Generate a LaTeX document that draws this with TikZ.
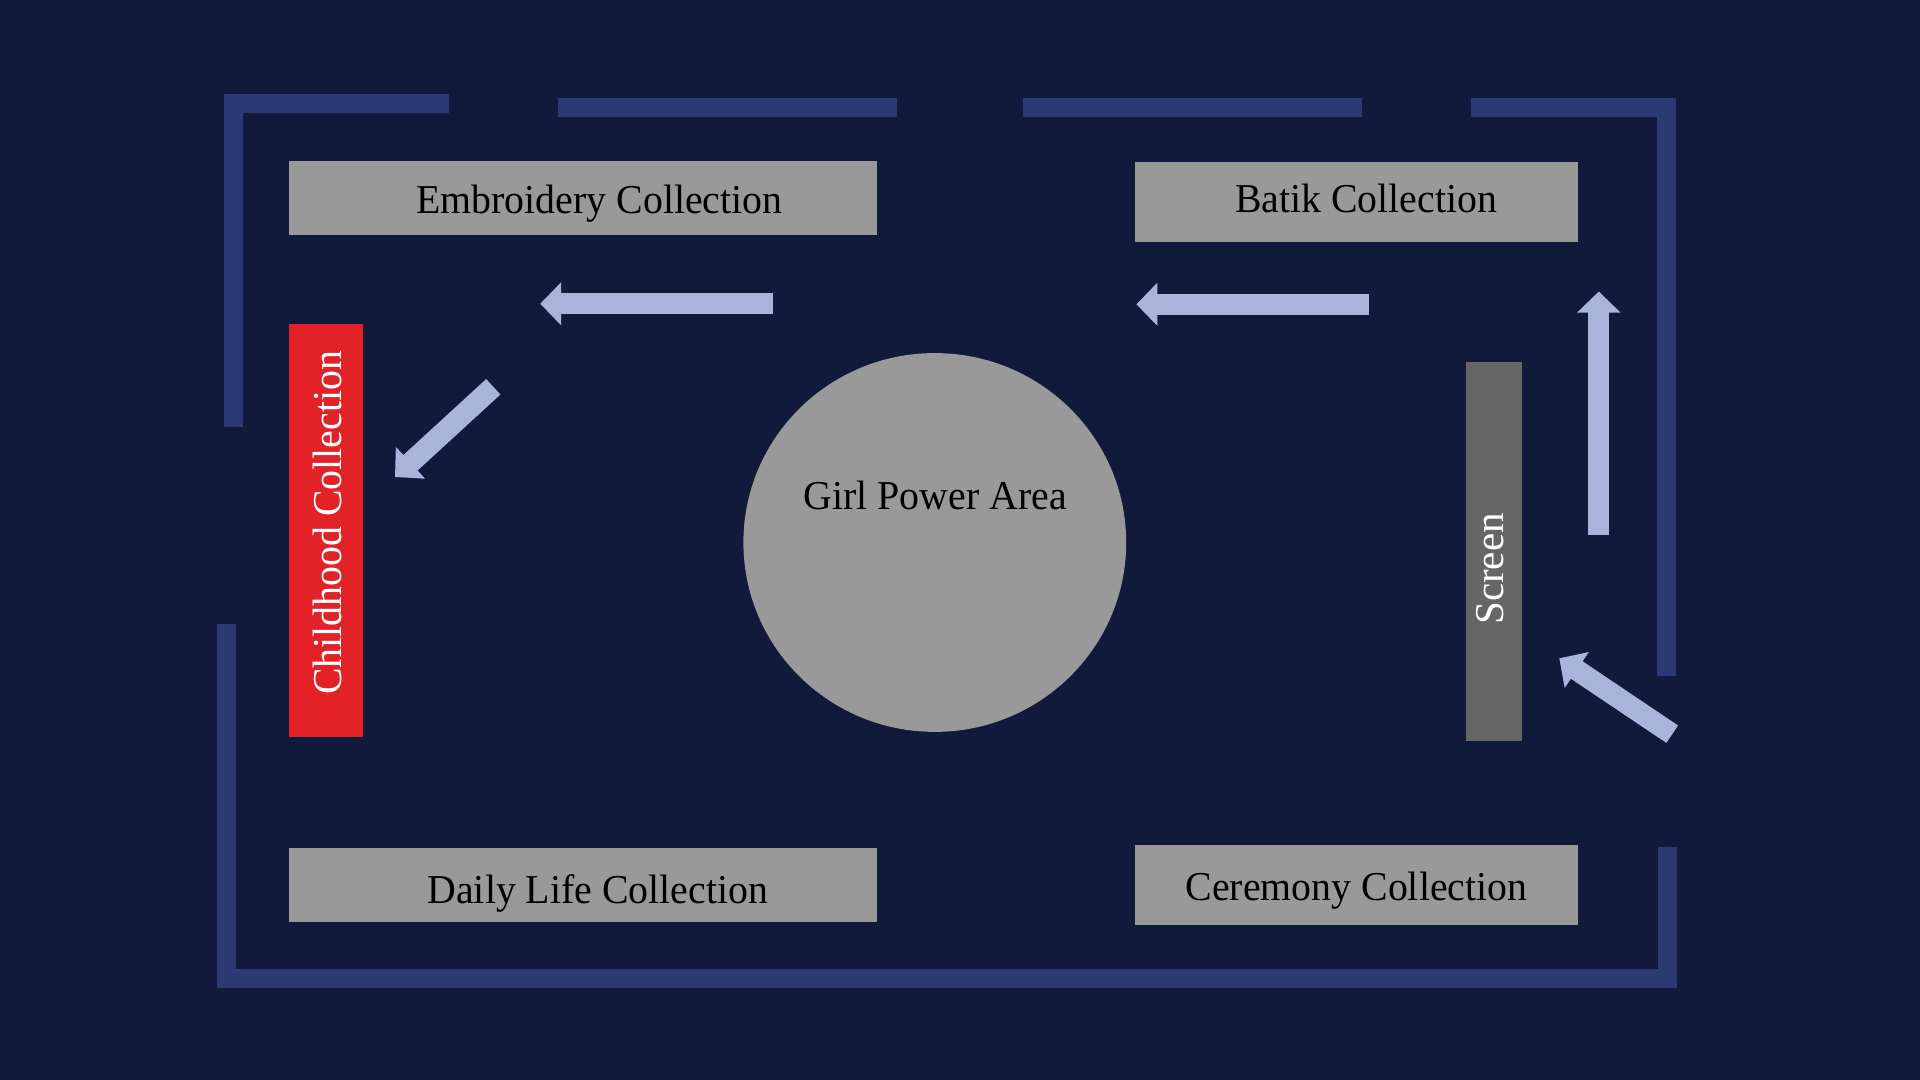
\documentclass[tikz,border=0pt]{standalone}
\usepackage{fontspec}
\setmainfont{Liberation Serif}
\usetikzlibrary{arrows.meta,shapes.geometric}
\definecolor{bgc}{HTML}{111A3A}
\definecolor{wallc}{HTML}{2B3A73}
\definecolor{arrowc}{HTML}{AAB4DA}
\definecolor{boxc}{HTML}{999999}
\definecolor{redc}{HTML}{E32228}
\definecolor{screenc}{HTML}{666666}
\newcommand{\lbltxt}[1]{\scalebox{0.97}[1]{#1}}
\tikzset{
  wall/.style={line width=0.19cm, draw=wallc, line cap=butt, line join=miter},
  flow/.style={line width=0.21cm, draw=arrowc, line cap=butt,
    -{Triangle[length=0.21cm,width=0.42cm]}},
  exhibit/.style={rectangle, fill=boxc, inner sep=0pt},
  lab/.style={font=\fontsize{11.67pt}{14pt}\selectfont, inner sep=0pt, anchor=base},
}
\begin{document}
\begin{tikzpicture}[x=0.01cm, y=-0.01cm]
  % background
  \fill[bgc] (0,0) rectangle (1920,1080);
  \useasboundingbox (0,0) rectangle (1920,1080);

  % walls
  \draw[wall] (448.9,103.8) -- (233.95,103.8) -- (233.95,427.3);
  \draw[wall] (557.7,107.8) -- (897.4,107.8);
  \draw[wall] (1022.5,107.8) -- (1362.3,107.8);
  \draw[wall] (1471,107.8) -- (1666.6,107.8) -- (1666.6,675.7);
  \draw[wall] (226.4,624.3) -- (226.4,978.8) -- (1667.6,978.8) -- (1667.6,846.7);

  % exhibit areas
  \node[exhibit, minimum width=5.88cm, minimum height=0.74cm] (emb) at (583.2,198) {};
  \node[exhibit, minimum width=4.426cm, minimum height=0.806cm] (batik) at (1356.3,202) {};
  \node[exhibit, minimum width=5.88cm, minimum height=0.74cm] (daily) at (583.2,885.3) {};
  \node[exhibit, minimum width=4.426cm, minimum height=0.80cm] (cer) at (1356.3,885.3) {};
  \node[exhibit, fill=redc, minimum width=0.733cm, minimum height=4.128cm] (child) at (326,530.4) {};
  \node[exhibit, fill=screenc, minimum width=0.556cm, minimum height=3.788cm] (screen) at (1494.2,551.1) {};
  \node[ellipse, fill=boxc, inner sep=0pt, minimum width=3.826cm, minimum height=3.786cm] (girl) at (934.8,542.5) {};

  % labels
  \node[lab] (embT) at (599.4,213.3) {\lbltxt{Embroidery Collection}};
  \node[lab] (batikT) at (1366.2,212.7) {\lbltxt{Batik Collection}};
  \node[lab] (dailyT) at (597.8,903.3) {\lbltxt{Daily Life Collection}};
  \node[lab] (cerT) at (1356.5,900.7) {\lbltxt{Ceremony Collection}};
  \node[lab] (girlT) at (935.3,510) {\lbltxt{Girl Power Area}};
  \node[lab, text=white, rotate=90] (childT) at (341,523) {\lbltxt{Childhood Collection}};
  \node[lab, text=white, rotate=90] (screenT) at (1503.3,569) {Screen};

  % visitor flow arrows
  \coordinate (a1s) at (772.5,303.8);   \coordinate (a1e) at (540.2,303.8);
  \coordinate (a2s) at (1368.7,304.3);  \coordinate (a2e) at (1136.4,304.3);
  \coordinate (a3s) at (1598.8,535);    \coordinate (a3e) at (1598.8,291.5);
  \coordinate (a4s) at (493.3,386.8);   \coordinate (a4e) at (395,477);
  \coordinate (a5s) at (1672.2,734.2);  \coordinate (a5e) at (1559.3,658.3);
  \draw[flow] (a1s) -- (a1e);
  \draw[flow] (a2s) -- (a2e);
  \draw[flow] (a3s) -- (a3e);
  \draw[flow] (a4s) -- (a4e);
  \draw[flow] (a5s) -- (a5e);
\end{tikzpicture}
\end{document}
